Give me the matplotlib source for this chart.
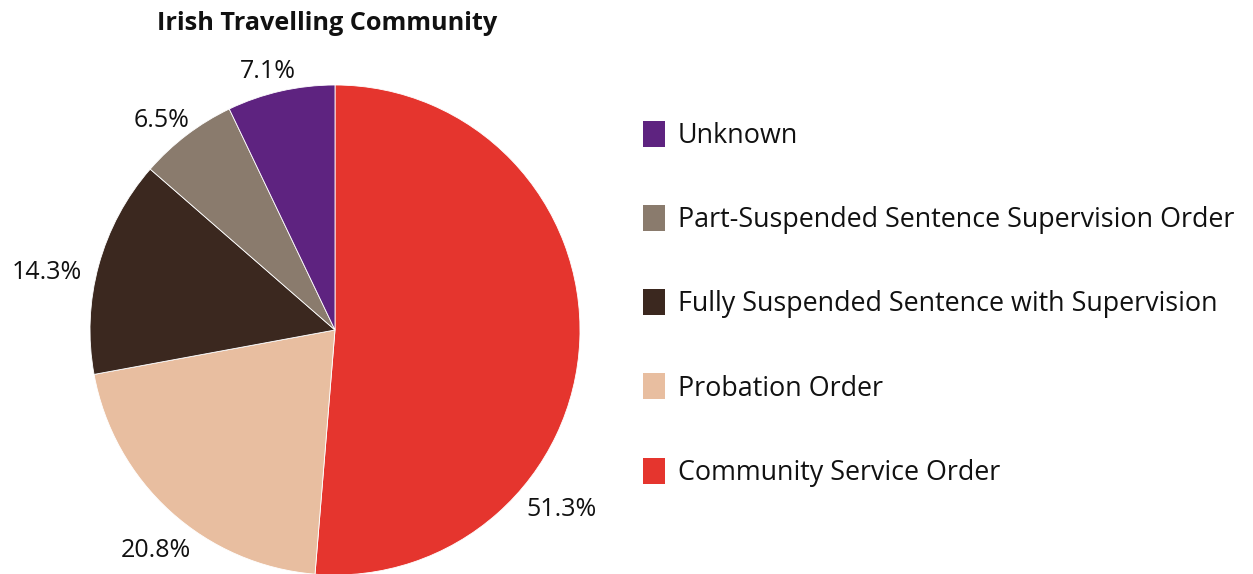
import numpy as np
import matplotlib.pyplot as plt
from matplotlib.patches import Patch

plt.rcParams['font.family'] = ['Open Sans', 'DejaVu Sans']

# pie order: clockwise from 12 o'clock
categories = ["Community Service Order", "Probation Order",
              "Fully Suspended Sentence with Supervision",
              "Part-Suspended Sentence Supervision Order", "Unknown"]
shares = [51.3, 20.8, 14.3, 6.5, 7.1]
colours = ["#E5352E", "#E8BEA0", "#3B281F", "#8A7B6D", "#5E2380"]

W, H = 1253, 574
fig = plt.figure(figsize=(W / 100, H / 100), dpi=100)

# pie centre (335, 330) px, radius 245 px
cx, cy, r = 335, 330, 245
ax = fig.add_axes([(cx - r) / W, (H - cy - r) / H, 2 * r / W, 2 * r / H])
wedges, _ = ax.pie(shares, colors=colours, startangle=90, counterclock=False,
                   wedgeprops=dict(linewidth=0.6, edgecolor="white"))
ax.set_xlim(-1, 1)
ax.set_ylim(-1, 1)
ax.set_aspect("equal")
ax.set_clip_on(False)

# percentage labels, placed around each wedge
label_dist = [1.18, 1.16, 1.2, 1.11, 1.09]
label_shift = [-36, 3, 4, 2.5, 1.8]  # degrees added to the wedge midpoint
for w, s, d, sh in zip(wedges, shares, label_dist, label_shift):
    ang = np.deg2rad((w.theta1 + w.theta2) / 2 + sh)
    ax.text(d * np.cos(ang), d * np.sin(ang), f"{s}%", ha="center", va="center",
            fontsize=18, color="#111111", clip_on=False)

fig.text(327 / W, 1 - 24 / H, "Irish Travelling Community", ha="center", va="center",
         fontsize=18.2, fontweight="bold", color="#111111")

handles = [Patch(facecolor=c) for c in colours][::-1]
fig.legend(handles, categories[::-1], loc="upper left",
           bbox_to_anchor=(643 / W, 1 - 121 / H), frameon=False,
           fontsize=19.4, handlelength=0.82, handleheight=1.11, handletextpad=0.48,
           labelspacing=2.04, borderaxespad=0, borderpad=0, labelcolor="#111111")

fig.savefig("out.png", dpi=100)
